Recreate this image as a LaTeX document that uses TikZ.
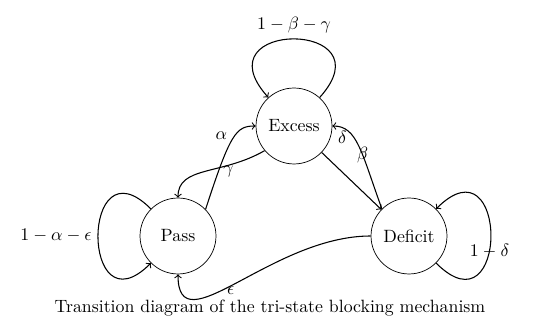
\documentclass[tikz,border=0pt]{standalone}
\usetikzlibrary{arrows}
\begin{document}
\begin{tikzpicture}[x=0.5618pt,y=0.5618pt,
  state/.style={circle,draw,thin,minimum size=1.5cm,inner sep=1pt},
  trans/.style={->,semithick},
  lbl/.style={inner sep=1pt}]
\useasboundingbox (0,0) rectangle (533,320);
\node[state] (E) at (294,194) {Excess};
\node[state] (P) at (178,84) {Pass};
\node[state] (D) at (409,84) {Deficit};
\node (cap) at (270,12) {Transition diagram of the tri-state blocking mechanism};
% loops
\draw[trans] (E) to[out=48,in=132,distance=59pt] node[above] {$1-\beta-\gamma$} (E);
\draw[trans] (P) to[out=135,in=225,distance=56pt] node[left] {$1-\alpha-\epsilon$} (P);
\draw[trans] (D) to[out=-45,in=45,distance=58pt] node[pos=0.42] {$1-\delta$} (D);
% Pass <-> Excess
\draw[trans] (P.44) to[out=72,in=180,out distance=45pt,in distance=11pt]
  node[lbl,pos=0.55,left=3pt] {$\alpha$}
  node[lbl,pos=0.2,right=1.5pt] {$\gamma$} (E.180);
\draw[trans] (E.220) to[out=210,in=90,out distance=28pt,in distance=18pt] (P.90);
% Excess <-> Deficit
\draw[trans] (E) -- (D);
\draw[trans] (D.135) to[out=110,in=0,out distance=34pt,in distance=14pt]
  node[lbl,pos=0.4] {$\beta$}
  node[lbl,pos=0.62,left=2.6pt] {$\delta$} (E.0);
% Deficit -> Pass
\draw[trans] (D.180) to[out=180,in=270,out distance=56pt,in distance=41pt]
  node[lbl,pos=0.53,below=0pt,inner sep=0.5pt] {$\epsilon$} (P.270);
\end{tikzpicture}
\end{document}
